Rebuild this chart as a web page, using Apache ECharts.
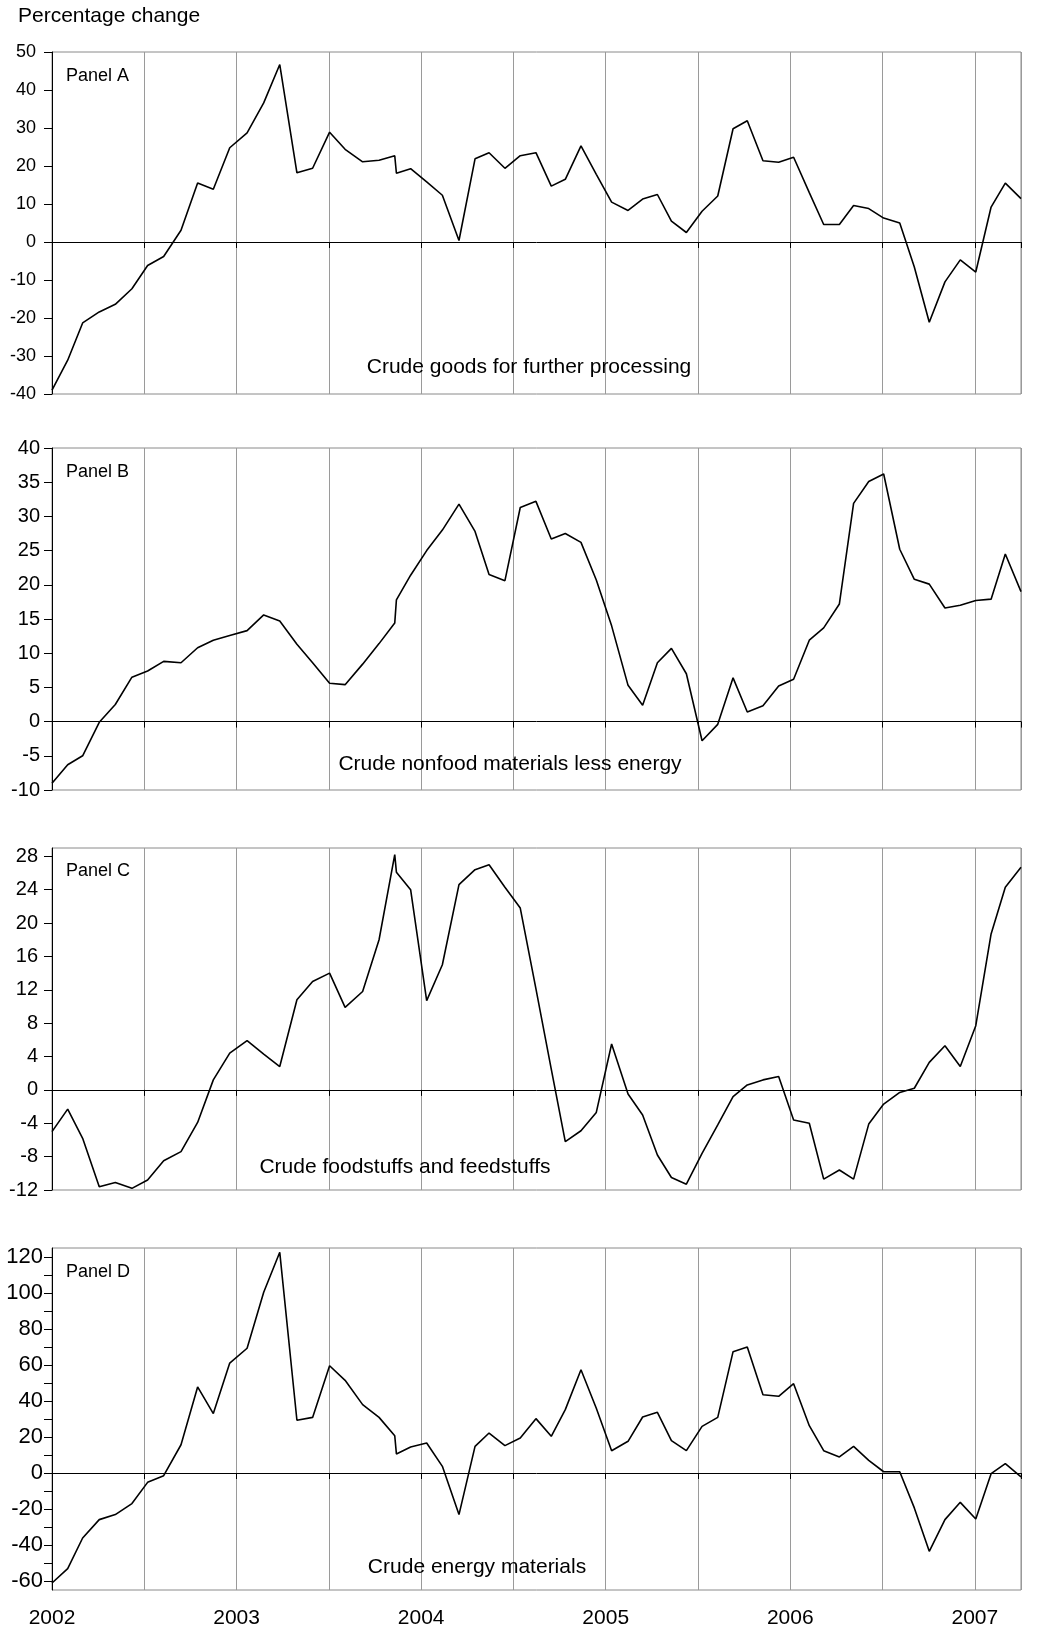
<!DOCTYPE html>
<html><head><meta charset="utf-8">
<script src="https://cdn.jsdelivr.net/npm/echarts@6/dist/echarts.min.js"></script>
<style>html,body{margin:0;padding:0;background:#fff}#c{width:1038px;height:1637px}</style>
</head><body><div id="c"></div>
<script>
// Observation dates (decimal years), shared by all four panels
const dates = [2002.000,2002.085,2002.166,2002.256,2002.343,2002.433,2002.518,2002.605,2002.699,2002.789,
  2002.874,2002.963,2003.057,2003.147,2003.234,2003.327,2003.412,2003.504,2003.588,2003.683,
  2003.772,2003.857,2003.866,2003.943,2004.030,2004.115,2004.205,2004.292,2004.368,2004.454,
  2004.537,2004.622,2004.705,2004.781,2004.866,2004.949,2005.032,2005.121,2005.200,2005.280,
  2005.356,2005.437,2005.522,2005.607,2005.690,2005.767,2005.852,2005.937,2006.018,2006.103,
  2006.181,2006.266,2006.343,2006.425,2006.506,2006.593,2006.672,2006.753,2006.838,2006.921,
  2007.005,2007.088,2007.165,2007.250];

const panelA = [-39,-31.1,-21.3,-18.4,-16.4,-12.3,-6.2,-3.8,3.1,15.5,
  13.9,24.8,28.7,36.6,46.7,18.2,19.4,28.9,24.4,21.1,
  21.5,22.7,18.1,19.3,15.8,12.3,0.4,21.9,23.5,19.4,
  22.7,23.5,14.7,16.5,25.3,17.8,10.5,8.3,11.3,12.5,
  5.5,2.5,8.1,12.1,29.8,31.9,21.4,21.0,22.3,13.0,
  4.6,4.6,9.6,8.8,6.3,5.0,-6.6,-21.1,-10.5,-4.7,
  -7.9,9.2,15.5,11.4];

const panelB = [-9.0,-6.3,-5.0,-0.1,2.5,6.5,7.4,8.8,8.6,10.8,
  11.9,12.6,13.3,15.6,14.7,11.3,8.6,5.6,5.4,8.4,
  11.4,14.4,17.8,21.4,25.0,28.0,31.8,27.8,21.5,20.6,
  31.3,32.2,26.7,27.5,26.2,20.7,14.0,5.3,2.4,8.6,
  10.7,7.0,-2.8,-0.4,6.4,1.4,2.3,5.2,6.2,11.9,
  13.7,17.2,31.9,35.1,36.2,25.2,20.8,20.1,16.6,17.0,
  17.7,17.9,24.5,19.0];

const panelC = [-5.0,-2.3,-5.8,-11.6,-11.1,-11.8,-10.8,-8.5,-7.4,-3.9,
  1.2,4.4,5.9,4.3,2.8,10.8,13.0,14.0,9.9,11.8,
  18.0,28.2,26.1,24.0,10.7,15.0,24.6,26.4,27.0,24.3,
  21.8,12.1,2.5,-6.2,-4.9,-2.7,5.5,-0.5,-3.0,-7.8,
  -10.5,-11.3,-7.6,-4.2,-0.8,0.6,1.2,1.6,-3.6,-4.0,
  -10.7,-9.6,-10.7,-4.1,-1.7,-0.3,0.2,3.3,5.3,2.8,
  7.7,18.7,24.3,26.7];

const panelD = [-61.1,-53.1,-36.1,-25.9,-23.1,-17.0,-5.2,-1.5,15.7,47.8,
  33.0,61.1,69.3,100.4,122.6,29.3,30.9,59.6,51.5,38.0,
  30.9,20.7,10.6,14.4,16.7,3.7,-23.1,14.8,22.2,15.2,
  19.4,30.2,20.4,35.2,57.4,36.0,12.4,17.6,31.1,33.7,
  18.0,12.4,25.9,30.9,67.4,70.0,43.5,42.6,49.6,26.3,
  12.4,8.9,14.8,7.0,0.7,0.7,-19.4,-43.5,-25.9,-16.3,
  -25.6,-0.4,5.2,-2.2];

const panelNames = ['Panel A','Panel B','Panel C','Panel D'];
const captions = ['Crude goods for further processing','Crude nonfood materials less energy',
  'Crude foodstuffs and feedstuffs','Crude energy materials'];
const yearTicks = [2002,2003,2004,2005,2006,2007];
const ticksC = [-12,-8,-4,0,4,8,12,16,20,24,28];
const labelsD = [-60,-40,-20,0,20,40,60,80,100,120];
const ticksD = [-60,-50,-40,-30,-20,-10,0,10,20,30,40,50,60,70,80,90,100,110,120];

const FONT = '"Liberation Sans", Arial, Helvetica, sans-serif';
const tops = [52,448,848,1248];
const H = 342;
const chart = echarts.init(document.getElementById('c'), null, {renderer:'canvas'});

const grids = tops.map(t => ({left:52, right:17, top:t, height:H, show:true,
  borderColor:'#8a8a8a', borderWidth:1, backgroundColor:'rgba(0,0,0,0)'}));

const xAxes = tops.map((t,i) => ({
  type:'value', gridIndex:i, min:2002, max:2007.25, interval:0.5,
  axisLine:{show:true, onZero:true, lineStyle:{color:'#000', width:1}},
  axisTick:{show:true, length:6, lineStyle:{color:'#000', width:1}},
  axisLabel:{show:false},
  splitLine:{show:true, lineStyle:{color:'#9a9a9a', width:1}}
}));
xAxes.push({
  type:'value', gridIndex:3, min:2002, max:2007.25, position:'bottom',
  axisLine:{show:false, onZero:false}, axisTick:{show:false}, splitLine:{show:false},
  axisLabel:{show:true, customValues:yearTicks, fontSize:21, color:'#000', margin:18,
    fontFamily:FONT, formatter:v => String(v)}
});

const yCommon = (i, extra) => Object.assign({
  type:'value', gridIndex:i,
  axisLine:{show:true, lineStyle:{color:'#000', width:1}},
  axisTick:{show:true, length:8, lineStyle:{color:'#000', width:1}},
  splitLine:{show:false}
}, extra);

const yAxes = [
  yCommon(0, {min:-40, max:50, interval:10,
    axisLabel:{fontSize:18, margin:16, color:'#000', fontFamily:FONT}}),
  yCommon(1, {min:-10, max:40, interval:5,
    axisLabel:{fontSize:20, margin:12, color:'#000', fontFamily:FONT}}),
  yCommon(2, {min:-12, max:29,
    axisLabel:{fontSize:20, margin:14, color:'#000', fontFamily:FONT, customValues:ticksC},
    axisTick:{show:true, length:8, customValues:ticksC, lineStyle:{color:'#000', width:1}}}),
  yCommon(3, {min:-65, max:125,
    axisLabel:{fontSize:22, margin:9, color:'#000', fontFamily:FONT, customValues:labelsD},
    axisTick:{show:true, length:8, customValues:ticksD, lineStyle:{color:'#000', width:1}}})
];

const allData = [panelA, panelB, panelC, panelD];
const series = allData.map((vals,i) => ({
  type:'line', xAxisIndex:i, yAxisIndex:i, symbol:'none', showSymbol:false,
  data: dates.map((d,k) => [d, vals[k]]),
  lineStyle:{color:'#000', width:1.6}, z:5, silent:true
}));

const nameY = [76, 472.5, 871, 1272.5];
const capX = [529, 510, 405, 477];
const capY = [367.5, 764.5, 1167, 1567.5];
const graphic = [{type:'text', x:18, y:16, style:{text:'Percentage change', fontSize:21,
  fontFamily:FONT, fill:'#000', align:'left', verticalAlign:'middle'}}];
panelNames.forEach((n,i) => graphic.push({type:'text', x:66, y:nameY[i], z:10,
  style:{text:n, fontSize:18, fontFamily:FONT, fill:'#000', align:'left', verticalAlign:'middle'}}));
captions.forEach((c,i) => graphic.push({type:'text', x:capX[i], y:capY[i], z:10,
  style:{text:c, fontSize:21, fontFamily:FONT, fill:'#000', align:'center', verticalAlign:'middle'}}));

chart.setOption({
  animation:false,
  backgroundColor:'#fff',
  textStyle:{fontFamily:FONT},
  grid:grids, xAxis:xAxes, yAxis:yAxes, series:series, graphic:graphic
});
</script></body></html>
